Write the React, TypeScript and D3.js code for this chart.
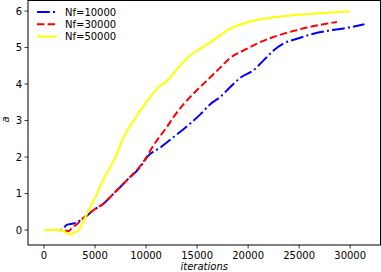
import React from "react";
import * as d3 from "d3";

// iterations / a values
const itersNf10000 = [0, 1000, 1740, 2230, 2900, 3700, 4873, 5851, 6830, 8141, 9442, 10100, 11400, 12700, 14335, 15313, 16292, 17270, 18248, 19228, 20530, 21508, 22487, 23465, 24776, 26400, 28034, 29668, 31400];
const aNf10000 = [0, 0, 0.01, 0.14, 0.18, 0.29, 0.55, 0.73, 1.0, 1.37, 1.73, 2.0, 2.26, 2.55, 2.92, 3.17, 3.45, 3.65, 3.92, 4.17, 4.38, 4.65, 4.92, 5.11, 5.24, 5.38, 5.47, 5.54, 5.64];

const itersNf30000 = [0, 1000, 2000, 2400, 2720, 3300, 3738, 4873, 5851, 6830, 8141, 9442, 10000, 10744, 12055, 12700, 13680, 14658, 15970, 17270, 18250, 19550, 20862, 22487, 24120, 25755, 27380, 28700];
const aNf30000 = [0, 0, -0.01, -0.03, 0.05, 0.18, 0.3, 0.55, 0.73, 1.0, 1.37, 1.76, 1.98, 2.33, 2.83, 3.1, 3.45, 3.74, 4.1, 4.45, 4.72, 4.92, 5.11, 5.29, 5.43, 5.55, 5.64, 5.7];

const itersNf50000 = [0, 1000, 1600, 2200, 2593, 3000, 3405, 3894, 4550, 5206, 5695, 6507, 7163, 7652, 8300, 8830, 9442, 10421, 11233, 11722, 12701, 13680, 14336, 15313, 16781, 17594, 18250, 19550, 21508, 23140, 26400, 29990];
const aNf50000 = [0, 0, 0, -0.08, -0.12, -0.07, 0, 0.27, 0.64, 1.0, 1.32, 1.73, 2.1, 2.46, 2.8, 3.02, 3.28, 3.65, 3.92, 4.01, 4.29, 4.62, 4.79, 4.97, 5.24, 5.4, 5.52, 5.66, 5.79, 5.85, 5.93, 5.99];

const xTicks = [0, 5000, 10000, 15000, 20000, 25000, 30000];
const yTicks = [0, 1, 2, 3, 4, 5, 6];

const series = [
  { label: "Nf=10000", iters: itersNf10000, a: aNf10000, color: "#0000ff", dash: "12.8,3.2,2,3.2" },
  { label: "Nf=30000", iters: itersNf30000, a: aNf30000, color: "#ff0000", dash: "7.4,3.2" },
  { label: "Nf=50000", iters: itersNf50000, a: aNf50000, color: "#ffff00", dash: null as string | null },
];

const W = 381;
const H = 272;
const margin = { top: 0.5, right: 0.5, bottom: 27, left: 28 };
const font = "DejaVu Sans, sans-serif";

export default function App() {
  const innerW = W - margin.left - margin.right;
  const innerH = H - margin.top - margin.bottom;

  const x = d3.scaleLinear().domain([-1570, 32970]).range([0, innerW]);
  const y = d3.scaleLinear().domain([-0.41, 6.29]).range([innerH, 0]);

  const line = d3
    .line<[number, number]>()
    .x((d) => x(d[0]))
    .y((d) => y(d[1]))
    .curve(d3.curveMonotoneX);

  return (
    <svg
      width={W}
      height={H}
      style={{ position: "absolute", left: 0, top: 0, background: "#fff" }}
      fontFamily={font}
    >
      <g transform={`translate(${margin.left},${margin.top})`}>
        <defs>
          <clipPath id="plot">
            <rect width={innerW} height={innerH} />
          </clipPath>
        </defs>
        <g clipPath="url(#plot)">
          {series.map((s) => (
            <path
              key={s.label}
              d={line(s.iters.map((v, i) => [v, s.a[i]] as [number, number])) || ""}
              fill="none"
              stroke={s.color}
              strokeWidth={2}
              strokeDasharray={s.dash || undefined}
            />
          ))}
        </g>

        <rect width={innerW} height={innerH} fill="none" stroke="#000" strokeWidth={1} />

        {xTicks.map((t) => (
          <g key={t} transform={`translate(${x(t)},${innerH})`}>
            <line y2={3.5} stroke="#000" strokeWidth={0.8} />
            <text y={14} textAnchor="middle" fontSize={10} fill="#000">
              {t}
            </text>
          </g>
        ))}
        {yTicks.map((t) => (
          <g key={t} transform={`translate(0,${y(t)})`}>
            <line x2={-3.5} stroke="#000" strokeWidth={0.8} />
            <text x={-6} dy="0.35em" textAnchor="end" fontSize={10} fill="#000">
              {t}
            </text>
          </g>
        ))}

        <text
          x={innerW / 2}
          y={innerH + 25}
          textAnchor="middle"
          fontSize={10}
          fontStyle="italic"
          fill="#000"
        >
          iterations
        </text>
        <text
          transform={`translate(${-19.5},${y(3) - 1}) rotate(-90)`}
          textAnchor="middle"
          fontSize={10}
          fontStyle="italic"
          fill="#000"
        >
          a
        </text>

        {series.map((s, i) => (
          <g key={s.label} transform={`translate(9,${11.5 + i * 12.2})`}>
            <line
              x1={0}
              x2={20}
              stroke={s.color}
              strokeWidth={2}
              strokeDasharray={s.dash || undefined}
            />
            <text x={28} dy="0.35em" fontSize={10} fill="#000">
              {s.label}
            </text>
          </g>
        ))}
      </g>
    </svg>
  );
}
